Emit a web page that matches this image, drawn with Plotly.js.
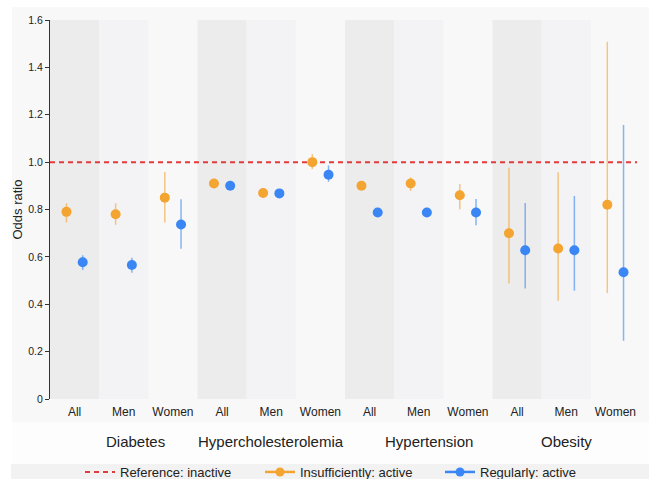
<!DOCTYPE html>
<html>
<head>
<meta charset="utf-8">
<script src="https://cdn.plot.ly/plotly-3.0.1.min.js"></script>
<style>html,body{margin:0;padding:0;background:#fff}#chart{width:649px;height:479px}</style>
</head>
<body>
<div id="chart"></div>
<script>
// ---- data ----
var groups = ['Diabetes', 'Hypercholesterolemia', 'Hypertension', 'Obesity'];
var categories = ['All', 'Men', 'Women', 'All', 'Men', 'Women', 'All', 'Men', 'Women', 'All', 'Men', 'Women'];
var referenceValue = [1.0];

var insuffOR = [0.79, 0.78, 0.85, 0.91, 0.87, 1.00, 0.90, 0.91, 0.86, 0.70, 0.635, 0.82];
var insuffLo = [0.745, 0.735, 0.745, 0.90, 0.86, 0.97, 0.89, 0.878, 0.80, 0.488, 0.415, 0.447];
var insuffHi = [0.826, 0.826, 0.958, 0.92, 0.88, 1.034, 0.91, 0.936, 0.908, 0.976, 0.957, 1.508];

var regOR = [0.577, 0.566, 0.737, 0.90, 0.868, 0.947, 0.787, 0.787, 0.787, 0.628, 0.628, 0.535];
var regLo = [0.545, 0.533, 0.634, 0.89, 0.858, 0.917, 0.777, 0.777, 0.734, 0.466, 0.457, 0.246];
var regHi = [0.607, 0.596, 0.843, 0.91, 0.878, 0.986, 0.797, 0.797, 0.844, 0.827, 0.857, 1.157];

var yTickVals = [0, 0.2, 0.4, 0.6, 0.8, 1.0, 1.2, 1.4, 1.6];
var yTickText = ['0', '0.2', '0.4', '0.6', '0.8', '1.0', '1.2', '1.4', '1.6'];

// ---- styling ----
var ORANGE = '#F4A431';
var BLUE = '#3A86F4';
var RED = '#E23B3B';
var FONT = 'Liberation Sans, Arial, sans-serif';
var TXT = '#222222';
var OFF = 0.165;

var idx = categories.map(function (_, i) { return i; });
function sub(a, b) { return a.map(function (v, i) { return +(v - b[i]).toFixed(4); }); }

var traces = [
  {
    name: 'Reference: inactive', type: 'scatter', mode: 'lines',
    x: [-0.5, 11.44], y: [referenceValue[0], referenceValue[0]],
    line: { color: RED, width: 2, dash: '5px,4px' }, hoverinfo: 'skip'
  },
  {
    name: 'Insufficiently: active', type: 'scatter', mode: 'markers', showlegend: false,
    x: idx.map(function (i) { return i - OFF; }), y: insuffOR,
    marker: { color: ORANGE, size: 10 },
    error_y: { type: 'data', symmetric: false, array: sub(insuffHi, insuffOR), arrayminus: sub(insuffOR, insuffLo),
      color: 'rgba(244,164,49,0.6)', thickness: 1.5, width: 0 }
  },
  {
    name: 'Regularly: active', type: 'scatter', mode: 'markers', showlegend: false,
    x: idx.map(function (i) { return i + OFF; }), y: regOR,
    marker: { color: BLUE, size: 10 },
    error_y: { type: 'data', symmetric: false, array: sub(regHi, regOR), arrayminus: sub(regOR, regLo),
      color: 'rgba(58,134,244,0.6)', thickness: 1.5, width: 0 }
  },
  {
    name: 'Insufficiently: active', type: 'scatter', mode: 'lines+markers',
    x: [null], y: [null], line: { color: ORANGE, width: 2.5 }, marker: { color: ORANGE, size: 9 }
  },
  {
    name: 'Regularly: active', type: 'scatter', mode: 'lines+markers',
    x: [null], y: [null], line: { color: BLUE, width: 2.5 }, marker: { color: BLUE, size: 9 }
  }
];

var L = 50, R = 9, T = 20, B = 80, W = 649, H = 479;
var pw = W - L - R, ph = H - T - B;
function px2x(p) { return (p - L) / pw; }
function py2y(p) { return (H - B - p) / ph; }

var shapes = [
  { type: 'rect', xref: 'paper', yref: 'paper', layer: 'below', x0: px2x(12), x1: px2x(W + 5), y0: py2y(422), y1: py2y(7),
    fillcolor: '#F8F8F8', line: { width: 0 } },
  { type: 'rect', xref: 'paper', yref: 'paper', layer: 'below', x0: px2x(12), x1: px2x(W + 5), y0: py2y(464), y1: py2y(422),
    fillcolor: '#FDFDFD', line: { width: 0 } },
  { type: 'rect', xref: 'paper', yref: 'paper', layer: 'below', x0: px2x(11), x1: px2x(W + 5), y0: py2y(H + 5), y1: py2y(464),
    fillcolor: '#F2F2F2', line: { width: 0 } }
];
var bandColors = ['#ECECEC', '#F3F3F5', null];
idx.forEach(function (i) {
  var c = bandColors[i % 3];
  if (c) shapes.push({ type: 'rect', xref: 'x', yref: 'y', layer: 'below', x0: i - 0.5, x1: i + 0.5, y0: 0, y1: 1.6,
    fillcolor: c, line: { width: 0 } });
});

var groupX = [1.23, 3.99, 7.21, 10.01];
var annotations = groups.map(function (g, k) {
  return { text: g, xref: 'x', yref: 'paper', x: groupX[k], y: py2y(441), yanchor: 'middle', xanchor: 'center',
    showarrow: false, font: { family: FONT, size: 15, color: TXT } };
});

var layout = {
  width: W, height: H,
  margin: { l: L, r: R, t: T, b: B, autoexpand: false },
  paper_bgcolor: '#FFFFFF', plot_bgcolor: 'rgba(0,0,0,0)',
  font: { family: FONT, color: TXT },
  showlegend: true,
  legend: { orientation: 'h', x: px2x(80), xanchor: 'left', y: py2y(472), yanchor: 'middle',
    entrywidth: 135, entrywidthmode: 'pixels',
    bgcolor: 'rgba(0,0,0,0)', font: { family: FONT, size: 13, color: TXT }, traceorder: 'normal' },
  xaxis: { range: [-0.5, 11.5], tickvals: idx, ticktext: categories, showgrid: false, zeroline: false,
    showline: false, ticks: '', ticklabelstandoff: 4, tickfont: { family: FONT, size: 12, color: TXT }, fixedrange: true },
  yaxis: { range: [0, 1.6], tickvals: yTickVals, ticktext: yTickText, showgrid: false, zeroline: false,
    showline: true, linecolor: '#333333', linewidth: 1, ticks: 'outside', ticklen: 4, tickcolor: '#333333',
    tickfont: { family: FONT, size: 10.5, color: TXT },
    title: { text: 'Odds ratio', font: { family: FONT, size: 13, color: TXT }, standoff: 2 }, fixedrange: true },
  shapes: shapes,
  annotations: annotations
};

Plotly.newPlot('chart', traces, layout, { displayModeBar: false, staticPlot: true });
</script>
</body>
</html>
